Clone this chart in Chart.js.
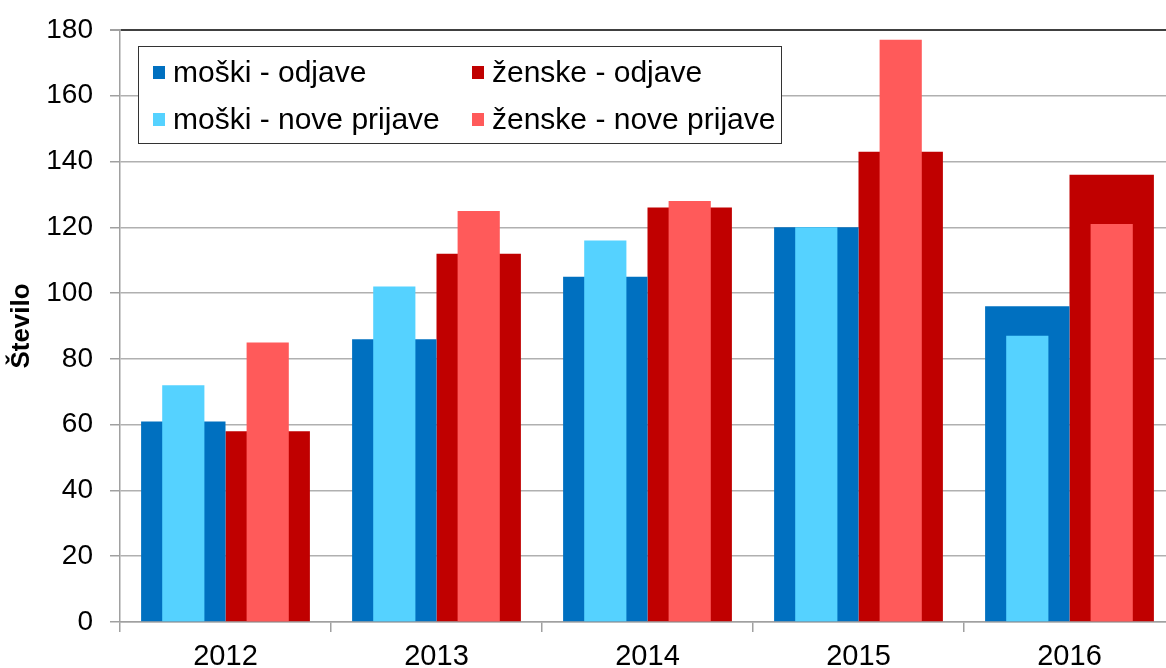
<!DOCTYPE html>
<html>
<head>
<meta charset="utf-8">
<script src="https://cdn.jsdelivr.net/npm/chart.js@4"></script>
<style>
  html, body { margin: 0; padding: 0; background: #fff; overflow: hidden; width: 1166px; height: 668px; }
  #wrap { position: absolute; left: 0; top: 0; width: 1180px; height: 668px; }
</style>
</head>
<body>
<div id="wrap"><canvas id="c" width="1180" height="668"></canvas></div>
<script>
const years = ['2012', '2013', '2014', '2015', '2016'];
const moskiOdjave = [61, 86, 105, 120, 96];
const zenskeOdjave = [58, 112, 126, 143, 136];
const moskiNove = [72, 102, 116, 120, 87];
const zenskeNove = [85, 125, 128, 177, 121];
const yTicks = [0, 20, 40, 60, 80, 100, 120, 140, 160, 180];
const seriesNames = ['moški - odjave', 'ženske - odjave', 'moški - nove prijave', 'ženske - nove prijave'];
const colors = ['#0070C0', '#C00000', '#55D2FF', '#FF5A5A'];

const FONT = "'Liberation Sans', Arial, sans-serif";
const firstYear = Number(years[0]);
const lastYear = Number(years[years.length - 1]);
// group = 80% of a category; each sex takes half of it
const GROUP = 0.8, HALF = GROUP / 4;

const legendBox = {
  id: 'legendBox',
  afterDraw(chart) {
    const ctx = chart.ctx;
    ctx.save();
    const x0 = 138, y0 = 46, w = 643, h = 97;
    ctx.fillStyle = '#fff';
    ctx.fillRect(x0, y0, w, h);
    ctx.strokeStyle = '#333';
    ctx.lineWidth = 1;
    ctx.strokeRect(x0 + 0.5, y0 + 0.5, w, h);
    const colX = [153, 472];
    const rowY = [73, 120];
    ctx.font = '30px ' + FONT;
    ctx.textBaseline = 'middle';
    chart.data.datasets.forEach((ds, i) => {
      const col = i % 2, row = Math.floor(i / 2);
      ctx.fillStyle = ds.backgroundColor;
      ctx.fillRect(colX[col], rowY[row] - 7, 12, 13);
      ctx.fillStyle = '#000';
      ctx.fillText(ds.label, colX[col] + 20, rowY[row] + 1);
    });
    ctx.restore();
  }
};

function hiddenLinear(shift) {
  return {
    type: 'linear',
    axis: 'x',
    position: 'bottom',
    display: false,
    min: firstYear - 0.5 - shift,
    max: lastYear + 0.5 - shift,
    afterBuildTicks(scale) { scale.ticks = []; }
  };
}

const barCommon = { grouped: false, categoryPercentage: 1.0 };

new Chart(document.getElementById('c'), {
  type: 'bar',
  data: {
    labels: years,
    datasets: [
      Object.assign({ label: seriesNames[0], data: moskiOdjave, backgroundColor: colors[0], xAxisID: 'xm', order: 1, barPercentage: GROUP / 2 }, barCommon),
      Object.assign({ label: seriesNames[1], data: zenskeOdjave, backgroundColor: colors[1], xAxisID: 'xz', order: 1, barPercentage: GROUP / 2 }, barCommon),
      Object.assign({ label: seriesNames[2], data: moskiNove, backgroundColor: colors[2], xAxisID: 'xm', order: 0, barPercentage: GROUP / 4 }, barCommon),
      Object.assign({ label: seriesNames[3], data: zenskeNove, backgroundColor: colors[3], xAxisID: 'xz', order: 0, barPercentage: GROUP / 4 }, barCommon)
    ]
  },
  options: {
    responsive: false,
    devicePixelRatio: 1,
    animation: false,
    layout: { padding: { top: 30, right: 5, left: 0, bottom: 0 } },
    plugins: { legend: { display: false }, tooltip: { enabled: false } },
    scales: {
      x: {
        type: 'category',
        axis: 'x',
        position: 'bottom',
        offset: true,
        grid: { display: true, drawOnChartArea: false, drawTicks: true, tickLength: 10, offset: true, color: '#a0a0a0', lineWidth: 1.5 },
        border: { display: true, color: '#a0a0a0', width: 1.5 },
        ticks: { color: '#000', font: { family: FONT, size: 29 }, padding: 8, maxRotation: 0 },
        afterFit(scale) { scale.height = 46; scale.paddingLeft = 0; scale.paddingRight = 0; }
      },
      xm: hiddenLinear(-HALF),
      xz: hiddenLinear(HALF),
      y: {
        axis: 'y',
        position: 'left',
        min: 0,
        max: 180,
        afterBuildTicks(scale) { scale.ticks = yTicks.map(v => ({ value: v })); },
        grid: {
          color: ctx => (ctx.tick && ctx.tick.value === 180) ? '#404040' : '#b0b0b0',
          lineWidth: ctx => (ctx.tick && ctx.tick.value === 180) ? 2 : 1.5,
          tickColor: '#a0a0a0',
          tickLength: 10,
          drawTicks: true
        },
        border: { display: true, color: '#a0a0a0', width: 1.5 },
        ticks: { color: '#000', font: { family: FONT, size: 28 }, padding: 17 },
        title: { display: true, text: 'Število', color: '#000', font: { family: FONT, size: 26, weight: 'bold' }, padding: { top: 6, bottom: 0 } },
        afterFit(scale) { scale.width = 120; scale.paddingTop = 0; scale.paddingBottom = 0; }
      }
    }
  },
  plugins: [legendBox]
});
</script>
</body>
</html>
